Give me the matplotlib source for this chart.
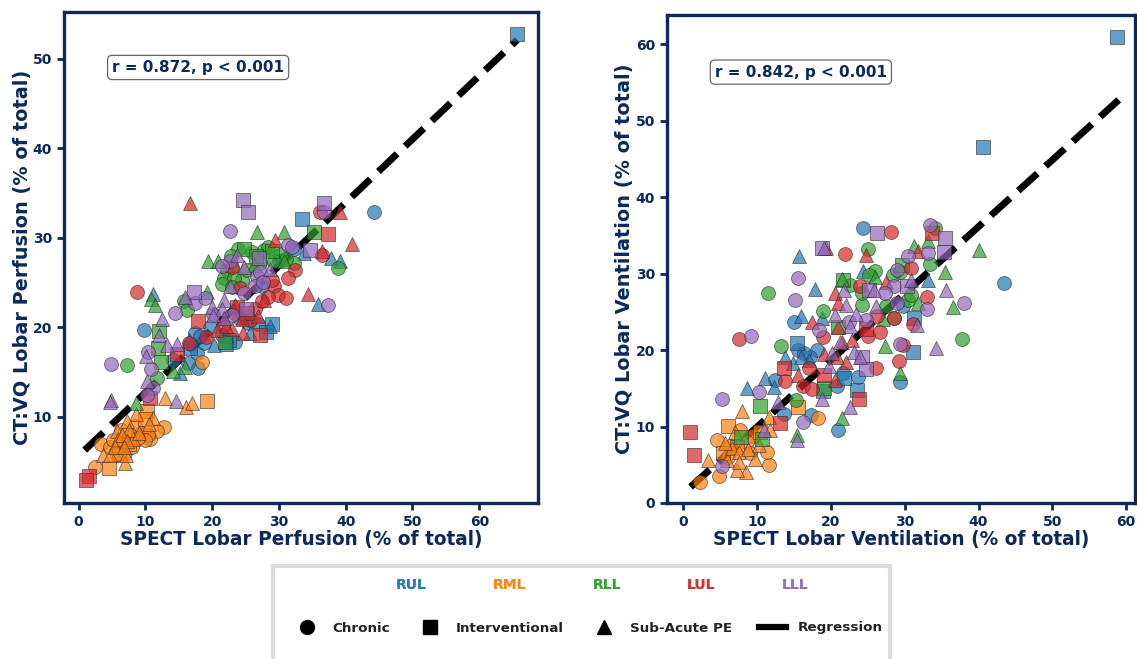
import matplotlib
matplotlib.use('Agg')
import matplotlib.pyplot as plt
from matplotlib.lines import Line2D
from matplotlib.patches import Rectangle

# (x, y), one list per lobe and group
# left panel: perfusion
perf_rul_chronic = [(44.3,32.9),(9.8,19.7),(32.2,28.7),(27.4,24.6),(25.4,20.5),(26.8,20.4),(23.4,18.4),(17.9,15.5),(17.7,17.1),(16.4,16.0),(17.4,19.4),(18.7,18.3),(18.1,19.0),(14.2,16.4),(19.6,20.0),(16.7,18.2),(21.5,19.2),(24.0,21.0),(30.0,27.4)]
perf_rul_interv = [(65.7,52.8),(33.4,32.1),(29.0,20.4),(22.0,18.1),(16.7,17.7),(28.0,19.5),(22.5,18.6)]
perf_rul_subacute = [(11.2,23.7),(35.9,22.6),(37.8,27.7),(39.1,27.4),(28.6,20.2),(20.3,18.0),(15.2,14.9),(33.7,28.3),(25.7,19.4),(16.5,18.6),(22.0,19.0)]
perf_rml_chronic = [(18.4,16.1),(12.8,8.9),(11.8,8.4),(10.7,7.5),(9.3,8.2),(8.4,9.0),(3.3,7.0),(2.4,4.4),(5.7,5.8),(4.7,6.7),(6.7,7.2),(7.7,8.0),(10.4,8.0),(7.0,6.0),(8.0,6.7),(5.2,7.4),(9.9,7.4),(8.9,7.7),(6.3,8.5)]
perf_rml_interv = [(19.2,11.8),(10.3,10.7),(4.6,4.3),(6.0,5.9),(10.0,9.8),(7.6,7.0)]
perf_rml_subacute = [(12.9,12.1),(16.1,11.1),(17.0,11.6),(8.6,10.3),(11.1,9.9),(7.3,9.6),(6.9,4.9),(3.7,5.8),(5.7,8.4),(8.2,7.5),(5.9,7.5),(4.7,5.8),(7.1,5.8),(7.6,8.6),(6.5,8.0),(7.3,7.3),(5.4,6.6),(6.8,6.6),(9.0,8.2),(10.6,9.2)]
perf_rll_chronic = [(38.8,26.6),(7.3,15.8),(11.7,14.3),(23.9,28.7),(25.9,28.4),(27.7,28.6),(28.4,29.0),(30.2,28.1),(32.2,27.2),(31.0,27.6),(22.2,26.4),(21.7,25.5),(21.5,24.8),(24.4,25.3),(23.2,25.5),(15.7,22.9),(16.2,21.9),(25.2,26.4),(29.2,27.4),(27.2,27.2),(23.0,24.5),(22.8,28.0)]
perf_rll_interv = [(35.2,30.6),(24.8,28.7),(29.0,28.5),(12.1,19.6),(11.9,17.7),(12.3,16.1),(21.9,18.4),(26.5,28.0)]
perf_rll_subacute = [(26.7,30.7),(30.7,30.7),(19.3,27.4),(20.8,27.4),(30.7,27.4),(19.2,24.0),(10.9,23.2),(11.4,22.5),(14.2,15.1),(15.9,15.6),(8.6,11.6),(26.2,27.0),(23.2,27.0)]
perf_lul_chronic = [(8.7,24.0),(36.2,32.9),(36.4,28.1),(32.4,26.4),(31.4,25.5),(29.2,24.6),(29.9,23.6),(31.0,23.3),(29.0,25.3),(22.9,26.7),(27.4,22.9),(24.2,24.4),(24.7,21.2),(26.4,22.0),(19.0,18.9),(16.5,18.3),(23.3,21.6),(25.6,20.8),(21.6,20.3),(28.4,23.4)]
perf_lul_interv = [(37.3,30.4),(17.8,20.7),(27.2,19.1),(14.7,17.0),(10.7,12.1),(1.6,3.4),(1.1,3.0),(23.7,22.3),(25.2,21.6)]
perf_lul_subacute = [(16.7,33.9),(39.1,32.9),(40.9,29.3),(36.5,28.5),(29.4,29.8),(34.4,23.7),(27.7,23.1),(26.9,21.3),(24.6,19.4),(22.9,19.8),(20.7,19.7),(23.4,22.5),(24.4,20.9),(22.1,20.1)]
perf_lll_chronic = [(22.6,30.8),(37.4,22.5),(31.4,29.2),(26.7,25.7),(22.7,27.4),(21.5,26.8),(24.7,23.8),(27.2,26.2),(26.4,24.6),(17.4,22.7),(18.9,23.3),(14.5,21.6),(22.9,21.4),(10.4,17.2),(4.8,15.9),(10.8,15.4),(11.2,13.2),(10.2,12.4),(36.7,32.9),(20.1,21.5),(27.6,25.1),(32.0,29.0)]
perf_lll_interv = [(24.6,34.2),(25.3,32.9),(36.7,33.9),(34.7,28.6),(27.0,27.7),(17.2,23.9),(25.1,22.0)]
perf_lll_subacute = [(23.7,28.1),(24.8,26.7),(28.6,26.5),(22.7,24.6),(15.9,23.4),(21.7,23.1),(19.9,22.3),(21.4,22.0),(21.7,21.0),(20.1,21.4),(12.5,20.9),(12.1,19.2),(14.7,18.1),(13.3,18.0),(10.1,16.8),(10.3,14.0),(4.8,11.9),(4.7,11.7),(14.6,11.8)]
perf_reg_x = [0.9, 65.7]
perf_reg_y = [6.3, 52.1]

# right panel: ventilation
vent_rul_chronic = [(24.3,35.9),(15.0,23.7),(29.8,25.7),(29.3,15.8),(20.9,9.6),(17.3,11.5),(13.6,11.7),(23.7,16.5),(20.8,15.3),(12.4,16.1),(18.1,20.0),(15.6,20.0),(17.2,19.1),(21.7,17.0),(43.4,28.8),(16.4,19.6)]
vent_rul_interv = [(15.4,20.9),(31.3,24.2),(31.1,19.8),(23.5,14.8),(21.8,16.4),(19.0,14.6),(40.6,46.6),(58.8,60.9)]
vent_rul_subacute = [(15.7,32.3),(17.9,28.0),(16.0,24.5),(18.8,24.2),(33.1,29.2),(24.4,30.3),(8.6,15.0),(11.1,16.3),(12.3,15.2),(13.8,19.1),(14.9,18.3),(17.0,18.7),(15.9,19.1)]
vent_rml_chronic = [(2.3,2.8),(4.9,3.5),(11.6,5.0),(4.6,8.2),(18.3,11.1),(11.3,6.7),(7.7,9.5),(9.5,8.7),(6.4,7.4),(8.6,8.0),(6.0,6.0),(9.0,6.5)]
vent_rml_interv = [(6.0,10.1),(15.5,12.6),(5.4,6.5),(10.4,9.3),(7.3,7.3)]
vent_rml_subacute = [(8.0,12.0),(11.6,11.2),(11.8,9.6),(3.4,5.6),(8.5,4.1),(7.3,4.3),(5.9,5.6),(6.6,7.2),(7.5,6.7),(9.7,5.8),(8.8,7.0),(7.0,9.3),(5.7,7.9),(10.2,7.6),(7.5,5.4)]
vent_rll_chronic = [(11.5,27.5),(13.3,20.5),(15.3,13.5),(37.8,21.5),(25.0,33.2),(26.0,30.3),(25.2,29.8),(28.4,29.8),(33.4,31.3),(34.1,35.9),(18.9,25.1),(24.2,25.9),(27.5,25.7),(30.5,26.5),(30.9,27.2),(29.3,30.2),(24.2,27.4),(22.6,28.5),(28.5,24.2)]
vent_rll_interv = [(21.6,29.2),(29.7,31.1),(10.4,12.7),(7.8,8.6),(10.7,8.4),(19.1,15.0),(20.9,23.0)]
vent_rll_subacute = [(40.1,33.1),(35.5,30.2),(36.5,25.6),(33.1,34.3),(31.3,33.6),(27.3,20.5),(29.3,17.0),(21.5,11.1),(15.4,8.9),(31.8,26.1),(26.0,29.6),(21.5,29.3),(27.0,24.0)]
vent_lul_chronic = [(28.1,35.4),(21.9,32.6),(7.6,21.4),(33.0,26.9),(26.1,17.6),(29.2,18.6),(29.8,20.7),(26.6,22.4),(19.0,21.7),(13.8,16.0),(16.2,15.3),(17.4,14.9),(17.1,17.7),(30.9,30.7),(23.9,28.4),(26.2,24.4),(25.0,21.8),(31.1,23.4),(28.5,24.2)]
vent_lul_interv = [(0.9,9.3),(1.4,6.3),(23.8,13.6),(13.6,17.7),(13.1,10.5),(33.7,35.3),(19.1,16.7),(24.8,22.8)]
vent_lul_subacute = [(19.4,33.3),(24.8,32.4),(20.6,27.4),(17.5,23.7),(21.0,26.1),(31.8,32.9),(15.6,16.7),(20.6,16.1),(22.1,18.4),(19.1,19.5),(22.8,21.3),(20.8,19.1),(21.5,21.1),(21.0,23.0),(27.5,28.9)]
vent_lll_chronic = [(15.6,29.4),(15.1,26.5),(9.2,21.8),(5.2,13.6),(10.3,14.5),(16.2,10.6),(5.2,4.8),(38.0,26.1),(33.0,25.3),(29.3,20.8),(33.4,36.4),(30.5,32.3),(33.2,32.7),(28.9,30.4),(28.6,28.4),(27.3,27.4),(29.0,26.1),(18.4,22.6),(24.8,23.9),(22.4,23.7)]
vent_lll_interv = [(26.3,35.3),(18.8,33.4),(35.5,34.6),(35.3,32.8),(30.3,28.4),(25.1,27.9),(24.2,19.1),(24.7,17.5)]
vent_lll_subacute = [(19.1,33.3),(35.6,27.9),(34.2,20.3),(30.9,29.2),(31.6,23.3),(26.1,25.8),(22.0,25.9),(20.6,24.6),(21.8,27.9),(23.4,24.7),(22.6,23.1),(21.3,21.1),(20.2,19.6),(23.1,19.8),(23.9,19.1),(19.8,17.9),(12.8,13.2),(18.8,13.6),(22.6,12.5),(11.0,9.5),(15.4,8.2),(25.8,27.9)]
vent_reg_x = [1.0, 59.0]
vent_reg_y = [2.1, 52.7]

lobes = ['RUL', 'RML', 'RLL', 'LUL', 'LLL']
groups = ['Chronic', 'Interventional', 'Sub-Acute PE']
lobe_colors = ['#1f77b4', '#ff7f0e', '#2ca02c', '#d62728', '#9467bd']
group_markers = ['o', 's', '^']
navy = '#0b2a5b'

perf_data = [[perf_rul_chronic, perf_rul_interv, perf_rul_subacute],
             [perf_rml_chronic, perf_rml_interv, perf_rml_subacute],
             [perf_rll_chronic, perf_rll_interv, perf_rll_subacute],
             [perf_lul_chronic, perf_lul_interv, perf_lul_subacute],
             [perf_lll_chronic, perf_lll_interv, perf_lll_subacute]]
vent_data = [[vent_rul_chronic, vent_rul_interv, vent_rul_subacute],
             [vent_rml_chronic, vent_rml_interv, vent_rml_subacute],
             [vent_rll_chronic, vent_rll_interv, vent_rll_subacute],
             [vent_lul_chronic, vent_lul_interv, vent_lul_subacute],
             [vent_lll_chronic, vent_lll_interv, vent_lll_subacute]]

W, H = 1137.0, 659.0
fig = plt.figure(figsize=(W/100, H/100), dpi=100)

def make_panel(box, data, reg_x, reg_y, xlim, ylim, xticks, yticks, xlabel, ylabel, note, note_xy, ylab_x):
    left, top, right, bottom = box
    ax = fig.add_axes([left/W, 1-bottom/H, (right-left)/W, (bottom-top)/H])
    ax.plot(reg_x, reg_y, color='k', lw=5, linestyle='--', zorder=1)
    for i in range(len(lobes)):
        for j in range(len(groups)):
            pts = data[i][j]
            ax.scatter([p[0] for p in pts], [p[1] for p in pts], s=100,
                       marker=group_markers[j], color=lobe_colors[i], alpha=0.7,
                       edgecolors='#333333', linewidths=0.6, zorder=2)
    ax.set_xlim(xlim)
    ax.set_ylim(ylim)
    ax.set_xticks(xticks)
    ax.set_yticks(yticks)
    ax.tick_params(colors=navy, width=2, length=5, labelsize=10)
    for t in ax.get_xticklabels() + ax.get_yticklabels():
        t.set_fontweight('bold')
    for s in ax.spines.values():
        s.set_color(navy)
        s.set_linewidth(2.4)
    ax.set_xlabel(xlabel, fontsize=13.35, fontweight='bold', color=navy, labelpad=1)
    ax.set_ylabel(ylabel, fontsize=13.9, fontweight='bold', color=navy, labelpad=2)
    ax.yaxis.set_label_coords((ylab_x-left)/(right-left), 0.5)
    ax.text(note_xy[0], note_xy[1], note, transform=ax.transAxes, fontsize=11,
            fontweight='bold', color=navy, ha='center', va='center',
            bbox=dict(boxstyle='round,pad=0.3,rounding_size=0.3', fc='white', ec='#666666', lw=0.9), zorder=5)
    return ax

make_panel((64, 12, 538, 503), perf_data, perf_reg_x, perf_reg_y, (-2.2, 68.8), (0.4, 55.2),
           range(0, 61, 10), range(10, 51, 10), 'SPECT Lobar Perfusion (% of total)',
           'CT:VQ Lobar Perfusion (% of total)', 'r = 0.872, p < 0.001', (0.283, 0.887), 32)
make_panel((667, 15, 1135, 503), vent_data, vent_reg_x, vent_reg_y, (-2.2, 61.2), (0, 63.8),
           range(0, 61, 10), range(0, 61, 10), 'SPECT Lobar Ventilation (% of total)',
           'CT:VQ Lobar Ventilation (% of total)', 'r = 0.842, p < 0.001', (0.286, 0.883), 634)

# legend box at the bottom
fig.add_artist(Rectangle((273/W, -0.01), 617/W, 100/H, transform=fig.transFigure,
                         fc='white', ec='#dcdcdc', lw=3))
lobe_handles = [Line2D([], [], color=c) for c in lobe_colors]
leg1 = fig.legend(lobe_handles, lobes, ncol=5, frameon=False, handlelength=0, handletextpad=0,
                  columnspacing=4.75, loc='center', bbox_to_anchor=(602/W, 1-585/H),
                  labelcolor='linecolor', prop={'weight': 'bold', 'size': 10})
for t in leg1.get_texts():
    t.set_alpha(0.8)
group_handles = [Line2D([], [], color='k', marker=m, linestyle='None', markersize=10) for m in group_markers]
group_handles.append(Line2D([], [], color='k', lw=4.5))
leg2 = fig.legend(group_handles, groups + ['Regression'], ncol=4, frameon=False, handlelength=2,
                  handletextpad=0.9, columnspacing=2.0, loc='center', bbox_to_anchor=(588/W, 1-628/H),
                  labelcolor='#222222', prop={'weight': 'bold', 'size': 9.7})
fig.add_artist(leg1)

fig.savefig('out.png', dpi=100)
